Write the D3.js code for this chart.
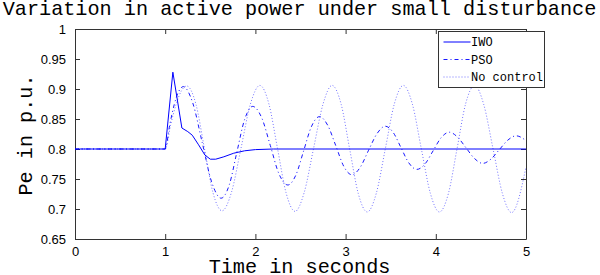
<!DOCTYPE html>
<html>
<head>
<meta charset="utf-8">
<script src="https://cdn.jsdelivr.net/npm/d3@7"></script>
<style>
  body { margin: 0; background: #fff; }
  .tick text { font-family: "Liberation Sans", Arial, sans-serif; font-size: 13px; fill: #000; }
  .mono { font-family: "Courier New", "Liberation Mono", monospace; fill: #000; }
</style>
</head>
<body>
<div id="chart"></div>
<script>
// time (s) and Pe (p.u.)
const iwoT = [0, 1.0, 1.085, 1.185, 1.25, 1.3, 1.37, 1.44, 1.5, 1.56, 1.65, 1.76, 1.88, 2.0, 2.2, 5.0];
const iwoV = [0.8, 0.8, 0.928, 0.835, 0.829, 0.823, 0.807, 0.79, 0.783, 0.783, 0.787, 0.793, 0.797, 0.799, 0.8, 0.8];

const psoT = [0, 1.0, 1.05, 1.1, 1.15, 1.2, 1.305, 1.41, 1.515, 1.62, 1.71, 1.795, 1.88, 1.97,
  2.07, 2.165, 2.26, 2.36, 2.45, 2.535, 2.62, 2.71, 2.8, 2.89, 2.98, 3.07, 3.16, 3.255, 3.35,
  3.44, 3.53, 3.615, 3.7, 3.79, 3.88, 3.97, 4.06, 4.15, 4.24, 4.335, 4.43, 4.52, 4.61, 4.705,
  4.8, 4.89, 5.0];
const psoV = [0.8, 0.8, 0.84, 0.874, 0.896, 0.904, 0.877, 0.811, 0.745, 0.718, 0.74, 0.795, 0.849, 0.871,
  0.852, 0.806, 0.759, 0.74, 0.757, 0.797, 0.837, 0.854, 0.84, 0.806, 0.771, 0.757, 0.769, 0.798, 0.826,
  0.838, 0.827, 0.802, 0.777, 0.766, 0.775, 0.797, 0.819, 0.828, 0.82, 0.802, 0.784, 0.776, 0.783, 0.799,
  0.815, 0.822, 0.814];

const ncT = [0, 1.0, 1.06, 1.12, 1.18, 1.24, 1.34, 1.435, 1.53, 1.63, 1.735, 1.84, 1.945, 2.05,
  2.15, 2.245, 2.34, 2.44, 2.54, 2.645, 2.75, 2.85, 2.95, 3.045, 3.14, 3.24, 3.34, 3.44, 3.54,
  3.64, 3.74, 3.84, 3.94, 4.04, 4.14, 4.235, 4.33, 4.43, 4.53, 4.635, 4.74, 4.84, 5.0];
const ncV = [0.8, 0.8, 0.84, 0.874, 0.897, 0.905, 0.875, 0.801, 0.727, 0.697, 0.728, 0.801, 0.875, 0.906,
  0.875, 0.801, 0.727, 0.696, 0.727, 0.801, 0.875, 0.906, 0.875, 0.8, 0.726, 0.695, 0.726, 0.8, 0.875,
  0.906, 0.875, 0.8, 0.726, 0.695, 0.726, 0.8, 0.875, 0.906, 0.875, 0.8, 0.725, 0.694, 0.77];

const seriesNames = ["IWO", "PSO", "No control"];
const xTicks = [0, 1, 2, 3, 4, 5];
const yTicks = [0.65, 0.7, 0.75, 0.8, 0.85, 0.9, 0.95, 1];

const width = 600, height = 275;
const margin = {top: 29, right: 74, bottom: 36, left: 75};
const axisColor = "#333";

const svg = d3.select("#chart").append("svg")
    .attr("width", width)
    .attr("height", height);

const x = d3.scaleLinear().domain([0, 5]).range([margin.left, width - margin.right]);
const y = d3.scaleLinear().domain([0.65, 1]).range([height - margin.bottom, margin.top]);

const fmt = d => d === 1 ? "1" : d3.format(".2~f")(d);

// axes, ticks pointing inward like MATLAB
const gx = svg.append("g").attr("transform", `translate(0,${y(0.65)})`)
    .call(d3.axisBottom(x).tickValues(xTicks).tickSizeInner(-5).tickSizeOuter(0).tickPadding(8).tickFormat(d3.format("d")));
const gy = svg.append("g").attr("transform", `translate(${x(0)},0)`)
    .call(d3.axisLeft(y).tickValues(yTicks).tickSizeInner(-5).tickSizeOuter(0).tickPadding(9).tickFormat(fmt));
const gt = svg.append("g").attr("transform", `translate(0,${y(1)})`)
    .call(d3.axisTop(x).tickValues(xTicks).tickSizeInner(-5).tickSizeOuter(0).tickFormat(""));
const gr = svg.append("g").attr("transform", `translate(${x(5)},0)`)
    .call(d3.axisRight(y).tickValues(yTicks).tickSizeInner(-5).tickSizeOuter(0).tickFormat(""));

[gx, gy, gt, gr].forEach(g => {
  g.selectAll(".domain, .tick line").attr("stroke", axisColor);
});

const line = d3.line().x(d => x(d[0])).y(d => y(d[1]));
const smooth = d3.line().x(d => x(d[0])).y(d => y(d[1])).curve(d3.curveMonotoneX);

const styles = [
  {dash: null, opacity: 1},
  {dash: "4,3,1,3", opacity: 0.9},
  {dash: "1,2", opacity: 0.55}
];

const ncData = ncT.map((t, i) => [t, ncV[i]]);
const psoData = psoT.map((t, i) => [t, psoV[i]]);
const iwoData = iwoT.map((t, i) => [t, iwoV[i]]);

svg.append("path").attr("d", smooth(ncData))
    .attr("fill", "none").attr("stroke", "#0000ff").attr("stroke-width", 1)
    .attr("stroke-dasharray", styles[2].dash).attr("opacity", styles[2].opacity);
svg.append("path").attr("d", smooth(psoData))
    .attr("fill", "none").attr("stroke", "#0000ff").attr("stroke-width", 1)
    .attr("stroke-dasharray", styles[1].dash).attr("opacity", styles[1].opacity);
svg.append("path").attr("d", line(iwoData))
    .attr("fill", "none").attr("stroke", "#0000ff").attr("stroke-width", 1);

// legend
const legend = svg.append("g").attr("transform", "translate(438.5,31.5)");
legend.append("rect").attr("width", 106).attr("height", 56)
    .attr("fill", "#fff").attr("stroke", axisColor);
seriesNames.forEach((name, i) => {
  const ly = 10.5 + i * 17.5;
  legend.append("line").attr("x1", 5).attr("x2", 32).attr("y1", ly).attr("y2", ly)
      .attr("stroke", "#0000ff").attr("stroke-dasharray", styles[i].dash)
      .attr("opacity", styles[i].opacity);
  legend.append("text").attr("class", "mono").attr("x", 32.5).attr("y", ly + 4)
      .style("font-size", "12px").text(name);
});

// title and axis labels
svg.append("text").attr("class", "mono")
    .attr("x", 299.5).attr("y", 14.5)
    .attr("text-anchor", "middle").style("font-size", "20.2px")
    .text("Variation in active power under small disturbance");

svg.append("text").attr("class", "mono")
    .attr("x", 299.5).attr("y", 273)
    .attr("text-anchor", "middle").style("font-size", "20.2px")
    .text("Time in seconds");

svg.append("text").attr("class", "mono")
    .attr("transform", "translate(32,135) rotate(-90)")
    .attr("text-anchor", "middle").style("font-size", "20.2px")
    .text("Pe in p.u.");
</script>
</body>
</html>
